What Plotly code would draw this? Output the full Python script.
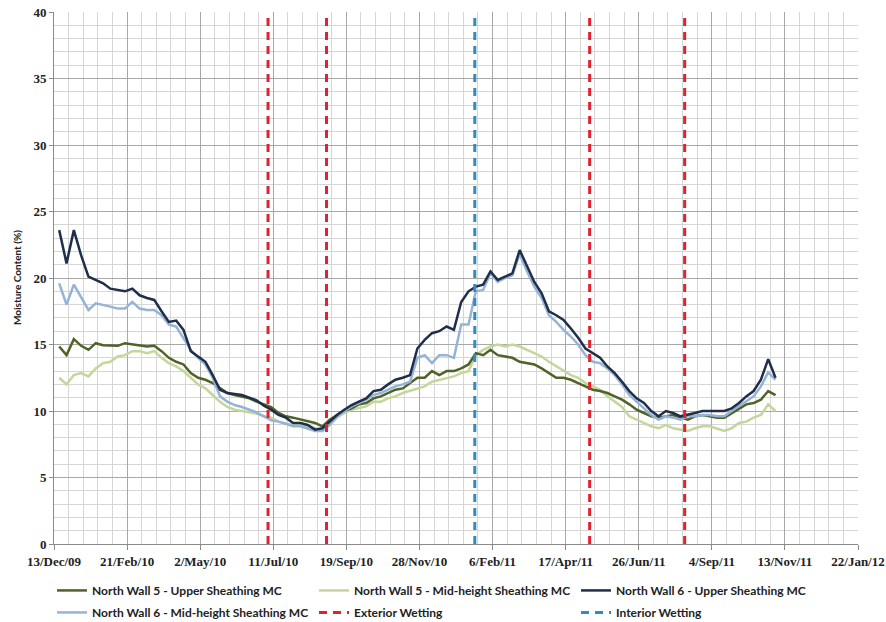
import plotly.graph_objects as go
import pandas as pd

# ---- sample dates (weekly readings) ----
first_date = "2009-12-18"
n_samples = 99
dates = pd.date_range(first_date, periods=n_samples, freq="7D")

# ---- series values (moisture content, %) ----
nw5_upper = [14.85, 14.2, 15.4, 14.9, 14.6, 15.1, 14.95, 14.9, 14.9, 15.1,
             15.0, 14.9, 14.85, 14.9, 14.5, 14.0, 13.7, 13.5, 12.85, 12.5,
             12.35, 12.1, 11.7, 11.35, 11.2, 11.1, 10.95, 10.7, 10.5, 10.3,
             9.85, 9.6, 9.5, 9.35, 9.2, 9.1, 8.85, 9.35, 9.7, 10.0,
             10.2, 10.5, 10.6, 10.95, 11.1, 11.35, 11.6, 11.7, 12.1, 12.5,
             12.5, 13.0, 12.7, 13.0, 13.0, 13.2, 13.5, 14.35, 14.2, 14.6,
             14.2, 14.1, 14.0, 13.7, 13.6, 13.5, 13.2, 12.85, 12.5, 12.5,
             12.35, 12.1, 11.85, 11.6, 11.5, 11.35, 11.1, 10.85, 10.5, 10.1,
             9.85, 9.6, 9.5, 9.6, 9.7, 9.5, 9.35, 9.6, 9.7, 9.6,
             9.5, 9.5, 9.85, 10.2, 10.5, 10.6, 10.85, 11.5, 11.2]

nw5_mid = [12.5, 12.0, 12.7, 12.85, 12.6, 13.2, 13.6, 13.7, 14.1, 14.2,
           14.5, 14.5, 14.35, 14.5, 14.0, 13.6, 13.35, 13.0, 12.5, 12.0,
           11.7, 11.2, 10.7, 10.3, 10.1, 10.0, 9.9, 9.8, 9.6, 9.5,
           9.2, 9.1, 8.95, 8.95, 8.85, 8.7, 8.5, 8.95, 9.5, 9.85,
           10.1, 10.2, 10.35, 10.7, 10.7, 10.95, 11.1, 11.35, 11.5, 11.7,
           11.85, 12.2, 12.35, 12.5, 12.6, 12.85, 13.0, 14.2, 14.6, 14.85,
           15.0, 14.85, 15.0, 14.85, 14.6, 14.35, 14.1, 13.7, 13.35, 13.0,
           12.7, 12.5, 12.1, 11.85, 11.6, 11.1, 10.7, 10.3, 9.6, 9.35,
           9.1, 8.85, 8.7, 8.95, 8.7, 8.6, 8.5, 8.7, 8.85, 8.85,
           8.7, 8.5, 8.7, 9.1, 9.2, 9.5, 9.7, 10.5, 10.0]

nw6_upper = [23.6, 21.1, 23.6, 21.7, 20.1, 19.85, 19.6, 19.2, 19.1, 19.0,
             19.2, 18.7, 18.5, 18.35, 17.5, 16.7, 16.8, 16.1, 14.5, 14.1,
             13.7, 12.7, 11.6, 11.35, 11.3, 11.2, 11.0, 10.8, 10.4, 10.1,
             9.7, 9.5, 9.1, 9.1, 8.95, 8.6, 8.7, 9.2, 9.7, 10.1,
             10.45, 10.7, 10.95, 11.5, 11.6, 12.0, 12.35, 12.5, 12.7, 14.7,
             15.35, 15.85, 16.0, 16.35, 16.1, 18.2, 19.0, 19.35, 19.5, 20.5,
             19.85, 20.1, 20.35, 22.1, 20.85, 19.7, 18.85, 17.5, 17.2, 16.85,
             16.2, 15.5, 14.7, 14.35, 14.0, 13.35, 12.85, 12.2, 11.5, 10.95,
             10.6, 10.0, 9.6, 10.0, 9.85, 9.6, 9.7, 9.85, 10.0, 10.0,
             10.0, 10.0, 10.2, 10.6, 11.1, 11.5, 12.35, 13.9, 12.5]

nw6_mid = [19.6, 18.0, 19.5, 18.5, 17.6, 18.1, 18.0, 17.85, 17.7, 17.7,
           18.2, 17.7, 17.6, 17.6, 17.2, 16.5, 16.35, 15.5, 14.6, 14.0,
           13.5, 12.5, 11.1, 10.7, 10.45, 10.3, 10.1, 9.9, 9.6, 9.3,
           9.2, 9.0, 8.85, 8.85, 8.7, 8.5, 8.5, 8.95, 9.6, 10.0,
           10.35, 10.6, 10.85, 11.2, 11.35, 11.6, 11.85, 12.0, 12.2, 14.0,
           14.2, 13.6, 14.2, 14.2, 14.0, 16.5, 16.5, 19.0, 19.1, 20.35,
           19.7, 20.0, 20.2, 21.8, 20.5, 19.35, 18.5, 17.2, 16.7, 16.1,
           15.6, 15.0, 14.2, 13.7, 13.6, 13.2, 12.7, 12.0, 11.2, 10.7,
           10.2, 9.7, 9.35, 9.6, 9.5, 9.35, 9.6, 9.6, 9.7, 9.7,
           9.6, 9.6, 10.0, 10.35, 10.7, 11.1, 11.85, 12.9, 12.35]

# ---- event dates ----
exterior_wetting_dates = ["2010-07-06", "2010-08-31", "2011-05-10", "2011-08-09"]
interior_wetting_dates = ["2011-01-20"]
y_span = [0, 40]

# ---- axis settings ----
x_start, x_end = "2009-12-13", "2012-01-22"
DAY_MS = 86400000

fig = go.Figure()

series = [
    ("North Wall 5 - Mid-height Sheathing MC", nw5_mid, "#c3d69b", 2, "legend"),
    ("North Wall 5 - Upper Sheathing MC", nw5_upper, "#4f6228", 1, "legend"),
    ("North Wall 6 - Mid-height Sheathing MC", nw6_mid, "#95b3d7", 4, "legend2"),
    ("North Wall 6 - Upper Sheathing MC", nw6_upper, "#1f2f4a", 3, "legend"),
]
for name, vals, col, rank, lg in series:
    fig.add_trace(go.Scatter(x=dates, y=vals, mode="lines", name=name,
                             line=dict(color=col, width=2.5),
                             legendrank=rank, legend=lg))


def vlines(date_list):
    xs, ys = [], []
    for d in date_list:
        xs += [d, d, None]
        ys += [y_span[0], y_span[1], None]
    return xs, ys


xs, ys = vlines(exterior_wetting_dates)
fig.add_trace(go.Scatter(x=xs, y=ys, mode="lines", name="Exterior Wetting",
                         line=dict(color="#e3202e", width=3, dash="8px,6px"),
                         legendrank=5, legend="legend2"))
xs, ys = vlines(interior_wetting_dates)
fig.add_trace(go.Scatter(x=xs, y=ys, mode="lines", name="Interior Wetting",
                         line=dict(color="#2f8cbf", width=3, dash="8px,6px"),
                         legendrank=6, legend="legend2"))

tickfont = dict(family="Liberation Serif", size=13, color="#222222", weight="bold")
legend_font = dict(family="Lato", size=12, color="#222222", weight="bold")

fig.update_layout(
    width=886, height=622,
    margin=dict(l=54, r=28, t=12, b=78, autoexpand=False),
    paper_bgcolor="white", plot_bgcolor="white",
    showlegend=True,
    xaxis=dict(
        type="date", range=[x_start, x_end], automargin=False,
        tick0=x_start, dtick=70 * DAY_MS, tickformat="%-d/%b/%y",
        showgrid=True, gridcolor="#a8a8a8", gridwidth=1,
        minor=dict(tick0=x_start, dtick=14 * DAY_MS, showgrid=True,
                   gridcolor="#d6d6d6", gridwidth=1),
        ticks="outside", ticklen=5, tickcolor="#8a8a8a",
        showline=True, linecolor="#8a8a8a", linewidth=1,
        zeroline=False, tickfont=tickfont,
    ),
    yaxis=dict(
        range=[0, 40], dtick=5, tick0=0, automargin=False,
        showgrid=True, gridcolor="#a8a8a8", gridwidth=1,
        minor=dict(dtick=1, showgrid=True, gridcolor="#d6d6d6", gridwidth=1),
        ticks="outside", ticklen=4, tickcolor="#8a8a8a",
        showline=True, linecolor="#8a8a8a", linewidth=1,
        zeroline=False, tickfont=tickfont,
    ),
    legend=dict(
        orientation="h", x=-0.0025, xanchor="left", y=-0.06, yanchor="top",
        entrywidth=217, entrywidthmode="pixels", font=legend_font,
        bgcolor="rgba(0,0,0,0)",
    ),
    legend2=dict(
        orientation="h", x=-0.0025, xanchor="left", y=-0.1014, yanchor="top",
        entrywidth=217, entrywidthmode="pixels", font=legend_font,
        bgcolor="rgba(0,0,0,0)",
    ),
    annotations=[dict(
        text="Moisture Content (%)", textangle=-90,
        xref="paper", yref="paper", x=-0.046, y=0.5,
        xanchor="center", yanchor="middle", showarrow=False,
        font=dict(family="Lato", size=10, color="#222222", weight="bold"),
    )],
)

# remove the browser's default 8px body margin so the figure sits at (0, 0)
fig.write_html("out.html", config={"displayModeBar": False},
               post_script="document.body.style.margin='0';")
